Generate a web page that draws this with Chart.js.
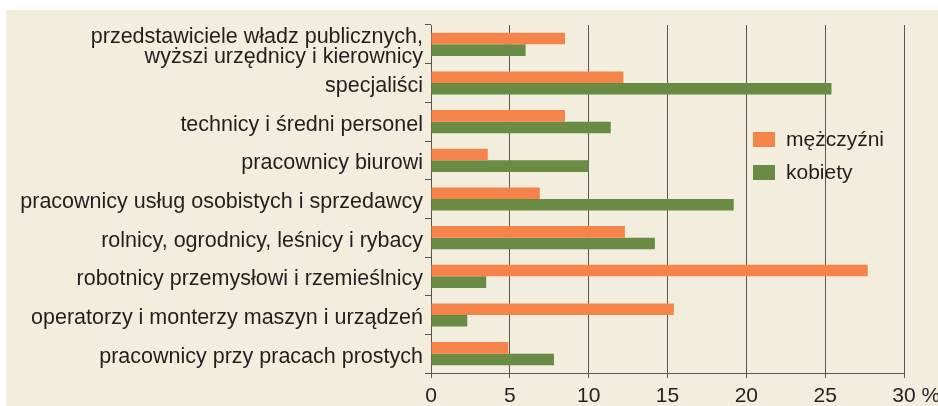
<!DOCTYPE html>
<html>
<head>
<meta charset="utf-8">
<script src="https://cdn.jsdelivr.net/npm/chart.js@4.4.1/dist/chart.umd.min.js"></script>
<style>
  html, body { margin: 0; padding: 0; background: #ffffff; }
  #panel { position: absolute; left: 6px; top: 10px; width: 932px; height: 396px; background: #F2EDDC; }
  canvas { display: block; }
</style>
</head>
<body>
<div id="panel"><canvas id="c" width="932" height="396"></canvas></div>
<script>
const categories = [
  ["przedstawiciele władz publicznych,", "wyższi urzędnicy i kierownicy"],
  "specjaliści",
  "technicy i średni personel",
  "pracownicy biurowi",
  "pracownicy usług osobistych i sprzedawcy",
  "rolnicy, ogrodnicy, leśnicy i rybacy",
  "robotnicy przemysłowi i rzemieślnicy",
  "operatorzy i monterzy maszyn i urządzeń",
  "pracownicy przy pracach prostych"
];
const seriesNames = ["mężczyźni", "kobiety"];
const men   = [8.5, 12.2, 8.5, 3.6, 6.9, 12.3, 27.7, 15.4, 4.9];
const women = [6.0, 25.4, 11.4, 10.0, 19.2, 14.2, 3.5, 2.3, 7.8];
const xTickLabels = ["0", "5", "10", "15", "20", "25", "30"];
const xUnit = " %";

const ORANGE = "#F5844A";
const GREEN = "#6A8B44";
const TEXT = "#231F20";
const LINE = "#575757";
const FONT = "'Liberation Sans', Arial, sans-serif";

const legendPlugin = {
  id: "customLegend",
  afterDraw(chart) {
    const ctx = chart.ctx;
    ctx.save();
    ctx.font = "21px " + FONT;
    ctx.textBaseline = "middle";
    ctx.textAlign = "left";
    chart.data.datasets.forEach((ds, i) => {
      const bx = 747, by = 122 + i * 33;
      ctx.fillStyle = ds.backgroundColor;
      ctx.fillRect(bx, by, 22, 15);
      ctx.fillStyle = TEXT;
      ctx.fillText(ds.label, bx + 33, by + 8);
    });
    // unit after last x tick label
    const sx = chart.scales.x;
    const items = sx.getLabelItems();
    const last = items[items.length - 1];
    if (last) {
      ctx.font = "21px " + FONT;
      ctx.textBaseline = last.options.textBaseline;
      ctx.textAlign = "left";
      ctx.fillStyle = TEXT;
      const w = ctx.measureText(String(last.label)).width;
      const [tx, ty] = last.options.translation;
      ctx.fillText(xUnit, tx + w / 2, ty + (last.textOffset || 0));
    }
    ctx.restore();
  }
};

new Chart(document.getElementById("c"), {
  type: "bar",
  data: {
    labels: categories,
    datasets: [
      { label: seriesNames[0], data: men, backgroundColor: ORANGE, categoryPercentage: 0.6, barPercentage: 1.0 },
      { label: seriesNames[1], data: women, backgroundColor: GREEN, categoryPercentage: 0.6, barPercentage: 1.0 }
    ]
  },
  options: {
    indexAxis: "y",
    responsive: false,
    animation: false,
    devicePixelRatio: 1,
    layout: { padding: { top: 15, right: 34, bottom: 0, left: 0 } },
    plugins: { legend: { display: false }, tooltip: { enabled: false } },
    scales: {
      x: {
        min: 0, max: 30,
        afterFit(scale) { scale.height = 33; },
        ticks: {
          stepSize: 5,
          color: TEXT,
          font: { family: FONT, size: 21 },
          padding: 6,
          maxRotation: 0,
          autoSkip: false,
          callback: (v, i) => xTickLabels[i]
        },
        grid: { color: LINE, lineWidth: 1, tickLength: 5, drawOnChartArea: true },
        border: { display: true, color: LINE, width: 1 }
      },
      y: {
        afterFit(scale) { scale.width = 425; },
        ticks: {
          color: TEXT,
          font: { family: FONT, size: 21.5, lineHeight: "20px" },
          padding: 2,
          labelOffset: 3,
          autoSkip: false
        },
        grid: { offset: true, drawOnChartArea: false, color: LINE, tickLength: 6 },
        border: { display: true, color: LINE, width: 1 }
      }
    }
  },
  plugins: [legendPlugin]
});
</script>
</body>
</html>
